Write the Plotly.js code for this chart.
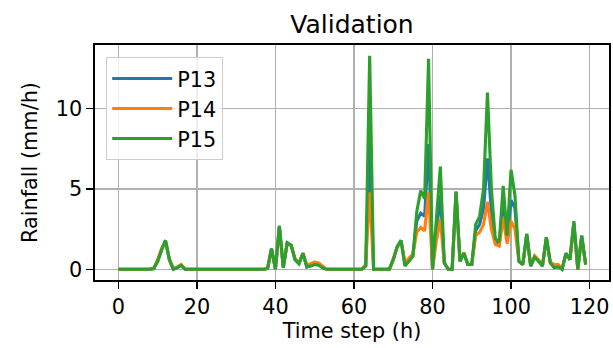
<!DOCTYPE html>
<html>
<head>
<meta charset="utf-8">
<script src="https://cdn.plot.ly/plotly-3.0.1.min.js"></script>
<style>
  html, body { margin: 0; padding: 0; background: #ffffff; }
  #chart { width: 613px; height: 348px; }
</style>
</head>
<body>
<div id="chart"></div>
<script>
// Hourly rainfall (mm/h) over the validation period for three stations.
const timeSteps = Array.from({length: 120}, (_, i) => i);

const p13 = [
  0, 0, 0, 0, 0, 0, 0, 0, 0, 0.05,
  0.5, 1.2, 1.8, 0.6, 0, 0.1, 0.25, 0, 0, 0,
  0, 0, 0, 0, 0, 0, 0, 0, 0, 0,
  0, 0, 0, 0, 0, 0, 0, 0, 0.05, 1.3,
  0, 2.7, 0.1, 1.65, 1.5, 0.6, 0.35, 1.0, 0.15, 0.25,
  0.35, 0.3, 0.1, 0, 0, 0, 0, 0, 0, 0,
  0, 0, 0, 0.2, 8.0, 0, 0, 0, 0, 0,
  0.6, 1.4, 1.8, 0.25, 0.55, 0.85, 3.0, 3.5, 3.3, 7.8,
  0, 2.5, 4.6, 0.4, 0, 0, 4.8, 0.5, 1.0, 0.3,
  0.3, 2.4, 2.8, 3.8, 6.9, 3.6, 1.7, 1.6, 4.4, 1.9,
  4.3, 3.8, 0.5, 0.3, 2.2, 0.2, 0.8, 0.55, 0.2, 2.0,
  0.4, 0.15, 0.2, 0, 1.0, 0.6, 2.9, 0, 2.1, 0.3
];

const p14 = [
  0, 0, 0, 0, 0, 0, 0, 0, 0, 0.05,
  0.6, 1.3, 1.7, 0.6, 0.05, 0.15, 0.3, 0, 0, 0,
  0, 0, 0, 0, 0, 0, 0, 0, 0, 0,
  0, 0, 0, 0, 0, 0, 0, 0, 0.05, 1.25,
  0, 2.6, 0.15, 1.6, 1.5, 0.65, 0.4, 1.0, 0.25, 0.35,
  0.45, 0.4, 0.2, 0, 0, 0, 0, 0, 0, 0,
  0, 0, 0, 0.3, 4.8, 0, 0, 0, 0, 0,
  0.6, 1.4, 1.75, 0.4, 0.7, 0.95, 2.3, 2.6, 2.4, 4.8,
  0, 1.8, 3.1, 0.4, 0, 0, 4.7, 0.5, 1.05, 0.3,
  0.3, 2.1, 2.3, 2.8, 4.2, 2.5, 1.55, 1.45, 3.2, 1.6,
  3.0, 2.5, 0.5, 0.3, 2.1, 0.25, 0.85, 0.6, 0.25, 1.9,
  0.45, 0.3, 0.3, 0.05, 0.95, 0.6, 2.8, 0, 2.0, 0.3
];

const p15 = [
  0, 0, 0, 0, 0, 0, 0, 0, 0, 0.05,
  0.5, 1.2, 1.8, 0.6, 0, 0.1, 0.25, 0, 0, 0,
  0, 0, 0, 0, 0, 0, 0, 0, 0, 0,
  0, 0, 0, 0, 0, 0, 0, 0, 0.05, 1.3,
  0, 2.7, 0.1, 1.65, 1.5, 0.6, 0.35, 1.0, 0.15, 0.2,
  0.3, 0.25, 0.1, 0, 0, 0, 0, 0, 0, 0,
  0, 0, 0, 0.2, 13.3, 0, 0, 0, 0, 0,
  0.6, 1.4, 1.8, 0.2, 0.5, 0.8, 3.6, 4.9, 4.4, 13.1,
  0, 3.0, 6.4, 0.4, 0, 0, 4.85, 0.5, 1.0, 0.3,
  0.3, 2.8, 3.3, 5.0, 11.0, 5.0, 1.9, 1.7, 5.2, 2.1,
  6.2, 4.6, 0.5, 0.3, 2.2, 0.2, 0.75, 0.5, 0.2, 2.0,
  0.4, 0.1, 0.15, 0, 1.0, 0.6, 3.0, 0, 2.1, 0.3
];

const seriesNames = ['P13', 'P14', 'P15'];
const seriesColors = ['#1f77b4', '#ff7f0e', '#2ca02c'];
const xTickVals = [0, 20, 40, 60, 80, 100, 120];
const yTickVals = [0, 5, 10];

// Axis limits padded by 5% of the data span on each side.
function padded(values) {
  const lo = Math.min(...values), hi = Math.max(...values);
  const m = (hi - lo) * 0.05;
  return [lo - m, hi + m];
}
const allY = p13.concat(p14, p15);

const FONT = 'DejaVu Sans, sans-serif';
const traces = [p13, p14, p15].map((ys, i) => ({
  x: timeSteps,
  y: ys,
  type: 'scatter',
  mode: 'lines',
  name: seriesNames[i],
  line: {color: seriesColors[i], width: 3.1}
}));

const axisCommon = {
  showline: true,
  mirror: true,
  linecolor: '#000000',
  linewidth: 1.6,
  showgrid: true,
  gridcolor: '#b0b0b0',
  gridwidth: 1.6,
  zeroline: false,
  ticks: 'outside',
  ticklen: 7,
  tickwidth: 1.6,
  tickcolor: '#000000',
  tickfont: {family: FONT, size: 20.8, color: '#000000'}
};

const layout = {
  width: 613,
  height: 348,
  paper_bgcolor: '#ffffff',
  plot_bgcolor: '#ffffff',
  margin: {l: 95, r: 4, t: 44.5, b: 67.5},
  showlegend: true,
  title: {
    text: 'Validation',
    font: {family: FONT, size: 25, color: '#000000'},
    x: 0.5, xref: 'paper',
    y: 1, yref: 'paper', yanchor: 'bottom',
    pad: {b: 12}
  },
  xaxis: Object.assign({}, axisCommon, {
    range: padded(timeSteps),
    tickvals: xTickVals,
    title: {text: 'Time step (h)', font: {family: FONT, size: 20.8, color: '#000000'}, standoff: 4}
  }),
  yaxis: Object.assign({}, axisCommon, {
    range: padded(allY),
    tickvals: yTickVals,
    title: {text: 'Rainfall (mm/h)', font: {family: FONT, size: 20.8, color: '#000000'}, standoff: 12}
  }),
  legend: {
    x: 0.0214, y: 0.948, xanchor: 'left', yanchor: 'top',
    bgcolor: 'rgba(255,255,255,0.8)',
    bordercolor: '#cccccc',
    borderwidth: 1.2,
    font: {family: FONT, size: 20.8, color: '#000000'},
    itemwidth: 60,
    entrywidth: 128,
    entrywidthmode: 'pixels'
  }
};

Plotly.newPlot('chart', traces, layout, {displayModeBar: false, staticPlot: true});
</script>
</body>
</html>
